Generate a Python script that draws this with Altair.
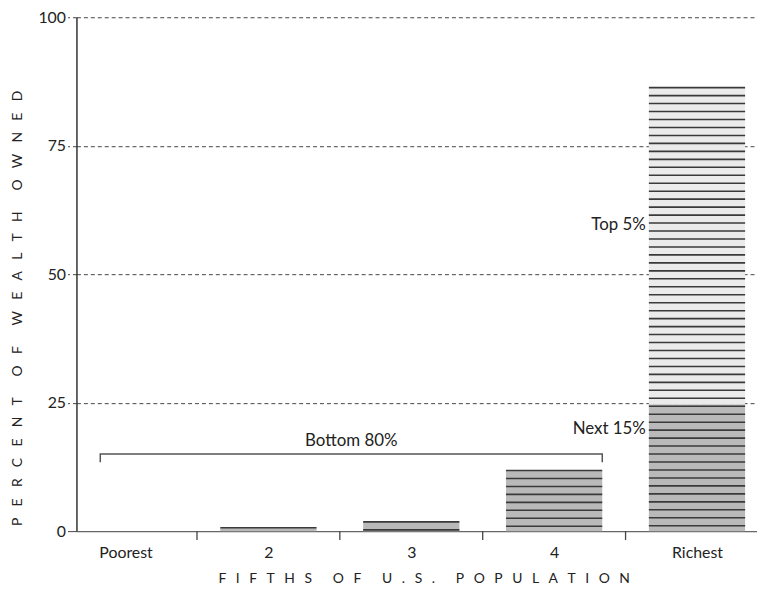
import altair as alt
import pandas as pd

# ---- data ----
categories = ["Poorest", "2", "3", "4", "Richest"]
positions = [1, 2, 3, 4, 5]
lower_share = [0.0, 0.65, 1.8, 11.8, 24.7]   # mid-gray part (Next 15% for Richest)
top5_share = [0.0, 0.0, 0.0, 0.0, 61.6]      # light part (Top 5%)
y_ticks = [0, 25, 50, 75, 100]
boundaries = [1.5, 2.5, 3.5, 4.5]
bracket_x = [0.823, 0.823, 4.337, 4.337]
bracket_y = [13.4, 15, 15, 13.4]
ann_text = ["Top 5%", "Next 15%", "Bottom 80%"]
ann_x = [4.663, 4.663, 2.58]
ann_y = [59.5, 19.9, 15]

HALF = 0.3368
STRIPE = 1.55
W, H = 686, 518

seg_rows = []
stripe_rows = []
for p, lo, tp in zip(positions, lower_share, top5_share):
    seg_rows.append({"pos": p, "y0": 0, "y1": lo, "seg": "mid"})
    if tp > 0:
        seg_rows.append({"pos": p, "y0": lo, "y1": lo + tp, "seg": "light"})
    total = lo + tp
    k = 0
    while total > 0 and total - k * STRIPE > 0.1:
        stripe_rows.append({"pos": p, "y": total - k * STRIPE})
        k += 1

segs = pd.DataFrame(seg_rows)
stripes = pd.DataFrame(stripe_rows)
bounds = pd.DataFrame({"b": boundaries})
brk = pd.DataFrame({"x": bracket_x, "y": bracket_y, "o": [0, 1, 2, 3]})
ann = pd.DataFrame({"t": ann_text, "x": ann_x, "y": ann_y})

xscale = alt.Scale(domain=[0.65625, 5.4201], nice=False, zero=False)
yscale = alt.Scale(domain=[0, 100], nice=False, zero=True)

FONT = "Lato"
FS = 17
WORD_GAP = "\u2003\u2003"
def spaced(s, letter_gap):
    return WORD_GAP.join(letter_gap.join(list(w)) for w in s.split(" "))

label_expr = "['','Poorest','2','3','4','Richest'][datum.value]"

xaxis = alt.Axis(
    values=positions, labelExpr=label_expr, ticks=False, grid=False,
    domainColor="#666", domainWidth=1.5, labelFontSize=16, labelColor="#222",
    labelPadding=14, labelFont=FONT,
    title=spaced("FIFTHS OF U.S. POPULATION", "\u2002\u2009\u200a"), titleFontSize=14,
    titleFont=FONT, titleFontWeight="normal", titleColor="#222", titlePadding=11,
    titleX=350)

yaxis = alt.Axis(
    values=y_ticks, grid=True, gridColor="#444", gridWidth=1,
    gridDash=[4, 3],
    gridOpacity={"condition": {"test": "datum.value === 0", "value": 0}, "value": 1},
    ticks=True, tickSize=9, tickColor="#444", tickWidth=1,
    tickDash={"condition": {"test": "datum.value === 0", "value": []}, "value": [4, 3]},
    domainColor="#333", domainWidth=1.5, labelFontSize=16, labelColor="#222",
    labelPadding=2, labelFont=FONT,
    title=spaced("PERCENT OF WEALTH OWNED", "\u2002\u2009\u2009\u200a"), titleFontSize=14,
    titleFont=FONT, titleFontWeight="normal", titleColor="#222",
    titleX=-52, titleY=293)

bars = alt.Chart(segs).transform_calculate(
    xl=f"datum.pos - {HALF}", xr=f"datum.pos + {HALF}"
).mark_rect().encode(
    x=alt.X("xl:Q", scale=xscale, axis=xaxis),
    x2="xr:Q",
    y=alt.Y("y0:Q", scale=yscale, axis=yaxis),
    y2="y1:Q",
    color=alt.Color("seg:N", scale=alt.Scale(domain=["mid", "light"],
                                             range=["#b9b9b9", "#ebebeb"]), legend=None),
)

stripe_layer = alt.Chart(stripes).transform_calculate(
    xl=f"datum.pos - {HALF}", xr=f"datum.pos + {HALF}"
).mark_rule(color="#3a3a3a", strokeWidth=1.6).encode(
    x=alt.X("xl:Q", scale=xscale, axis=xaxis),
    x2="xr:Q",
    y=alt.Y("y:Q", scale=yscale, axis=yaxis),
)

tick_layer = alt.Chart(bounds).mark_rule(color="#444", strokeWidth=1.3).encode(
    x=alt.X("b:Q", scale=xscale, axis=xaxis),
    y=alt.value(H),
    y2=alt.value(H + 9),
)

bracket_layer = alt.Chart(brk).mark_line(color="#555", strokeWidth=1.5).encode(
    x=alt.X("x:Q", scale=xscale, axis=xaxis),
    y=alt.Y("y:Q", scale=yscale, axis=yaxis),
    order="o:Q",
)

ann_right = alt.Chart(ann[ann.t != "Bottom 80%"]).mark_text(
    align="right", baseline="middle", dx=-3, fontSize=FS, font=FONT, color="#222"
).encode(
    x=alt.X("x:Q", scale=xscale, axis=xaxis),
    y=alt.Y("y:Q", scale=yscale, axis=yaxis),
    text="t:N",
)

ann_center = alt.Chart(ann[ann.t == "Bottom 80%"]).mark_text(
    align="center", baseline="middle", dy=-13, fontSize=FS, font=FONT, color="#222"
).encode(
    x=alt.X("x:Q", scale=xscale, axis=xaxis),
    y=alt.Y("y:Q", scale=yscale, axis=yaxis),
    text="t:N",
)

chart = alt.layer(bars, stripe_layer, tick_layer, bracket_layer, ann_right, ann_center).properties(
    width=W, height=H,
    autosize=alt.AutoSizeParams(type="none"),
    padding={"left": 69, "top": 7, "right": 0, "bottom": 54},
    background="white",
).configure_view(stroke=None)

chart.save("out.html", embed_options={"renderer": "svg", "actions": False})
